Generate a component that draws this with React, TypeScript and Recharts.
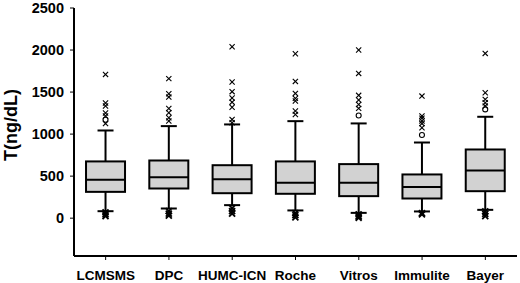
import { ComposedChart, Bar, XAxis, YAxis } from 'recharts';

const categories = ['LCMSMS', 'DPC', 'HUMC-ICN', 'Roche', 'Vitros', 'Immulite', 'Bayer'];
const whiskerLow = [83, 115, 155, 92, 63, 80, 99];
const q1 = [313, 353, 297, 290, 262, 234, 321];
const median = [456, 488, 464, 420, 420, 372, 567];
const q3 = [675, 686, 630, 675, 643, 520, 817];
const whiskerHigh = [1043, 1095, 1115, 1154, 1127, 900, 1206];

// outliers drawn as "x"
const highOutliers = [
  [1710, 1370, 1335, 1250, 1215, 1125],
  [1660, 1480, 1440, 1305, 1255, 1195, 1155],
  [2040, 1620, 1505, 1430, 1380, 1320, 1175, 1135],
  [1955, 1627, 1484, 1425, 1393, 1274, 1234],
  [2000, 1722, 1461, 1405, 1353, 1306],
  [1452, 1215, 1190, 1155, 1125, 1075],
  [1960, 1492, 1413, 1373, 1333],
];
// outliers drawn as "o"
const circleOutliers = [[1170], [], [], [], [1222], [990], [1294]];
const lowOutliers = [
  [70, 45, 25],
  [85, 55, 30],
  [120, 85, 55],
  [60, 35, 10],
  [45, 20, 5],
  [60, 45],
  [80, 50, 25],
];

const yTicks = [0, 500, 1000, 1500, 2000, 2500];

const data = categories.map((name, i) => ({
  name,
  whiskerLow: whiskerLow[i],
  q1: q1[i],
  median: median[i],
  q3: q3[i],
  whiskerHigh: whiskerHigh[i],
  high: highOutliers[i],
  circ: circleOutliers[i],
  low: lowOutliers[i],
}));

const FONT = '"Liberation Sans", Arial, Helvetica, sans-serif';

function Cross({ cx, cy, r, w }: { cx: number; cy: number; r: number; w: number }) {
  return (
    <g stroke="#000" strokeWidth={w}>
      <line x1={cx - r} y1={cy - r} x2={cx + r} y2={cy + r} />
      <line x1={cx - r} y1={cy + r} x2={cx + r} y2={cy - r} />
    </g>
  );
}

function BoxShape(props: any) {
  const { x, y, width, height, payload } = props;
  const lo = payload.whiskerLow;
  const hi = payload.whiskerHigh;
  const top = Math.min(y, y + height);
  const bot = Math.max(y, y + height);
  const k = (bot - top) / (hi - lo);
  const py = (v: number) => bot - (v - lo) * k;
  const cx = x + width / 2;
  const cap = 8;
  return (
    <g>
      <line x1={cx} x2={cx} y1={py(hi)} y2={py(payload.q3)} stroke="#000" strokeWidth={2} />
      <line x1={cx} x2={cx} y1={py(payload.q1)} y2={py(lo)} stroke="#000" strokeWidth={2} />
      <line x1={cx - cap} x2={cx + cap} y1={py(hi)} y2={py(hi)} stroke="#000" strokeWidth={2} />
      <line x1={cx - cap} x2={cx + cap} y1={py(lo)} y2={py(lo)} stroke="#000" strokeWidth={2} />
      <rect
        x={x}
        y={py(payload.q3)}
        width={width}
        height={py(payload.q1) - py(payload.q3)}
        fill="#d2d2d2"
        stroke="#000"
        strokeWidth={2}
      />
      <line x1={x} x2={x + width} y1={py(payload.median)} y2={py(payload.median)} stroke="#000" strokeWidth={2} />
      {payload.high.map((v: number, i: number) => (
        <Cross key={'h' + i} cx={cx} cy={py(v)} r={2.6} w={1.1} />
      ))}
      {payload.circ.map((v: number, i: number) => (
        <circle key={'c' + i} cx={cx} cy={py(v)} r={2.5} fill="none" stroke="#000" strokeWidth={1.1} />
      ))}
      {payload.low.map((v: number, i: number) => (
        <Cross key={'l' + i} cx={cx} cy={py(v)} r={3} w={1.8} />
      ))}
    </g>
  );
}

function YLabel(props: any) {
  const { x, y, height } = props.viewBox;
  return (
    <text
      transform={`translate(${x + 11},${y + height / 2 - 7}) rotate(-90)`}
      textAnchor="middle"
      dominantBaseline="central"
      fontFamily={FONT}
      fontWeight={700}
      fontSize={18}
      fill="#000"
    >
      T(ng/dL)
    </text>
  );
}

export default function App() {
  const axisLine = { stroke: '#000', strokeWidth: 2 };
  return (
    <div style={{ position: 'absolute', left: 0, top: 0, background: '#fff' }}>
      <ComposedChart
        width={520}
        height={283}
        data={data}
        margin={{ top: 8, right: 3, bottom: 0, left: 0 }}
        barCategoryGap="19%"
      >
        <XAxis
          dataKey="name"
          height={27}
          axisLine={axisLine}
          tickLine={{ stroke: '#000', strokeWidth: 1 }}
          tickSize={4}
          tickMargin={10}
          interval={0}
          tick={{ fill: '#000', fontSize: 13.5, fontWeight: 700, fontFamily: FONT }}
        />
        <XAxis xAxisId="top" dataKey="name" orientation="top" height={0} tick={false} tickLine={false} axisLine={axisLine} />
        <YAxis
          width={74}
          domain={[-450, 2500]}
          ticks={yTicks}
          axisLine={axisLine}
          tickLine={{ stroke: '#000', strokeWidth: 1 }}
          tickSize={4}
          tickMargin={6}
          interval={0}
          tick={{ fill: '#000', fontSize: 14.5, fontWeight: 700, fontFamily: FONT }}
          label={<YLabel />}
        />
        <YAxis yAxisId="right" orientation="right" width={0} domain={[-450, 2500]} tick={false} tickLine={false} axisLine={axisLine} />
        <Bar
          dataKey={(d: any) => [d.whiskerLow, d.whiskerHigh]}
          isAnimationActive={false}
          shape={(p: any) => <BoxShape {...p} />}
        />
      </ComposedChart>
    </div>
  );
}
